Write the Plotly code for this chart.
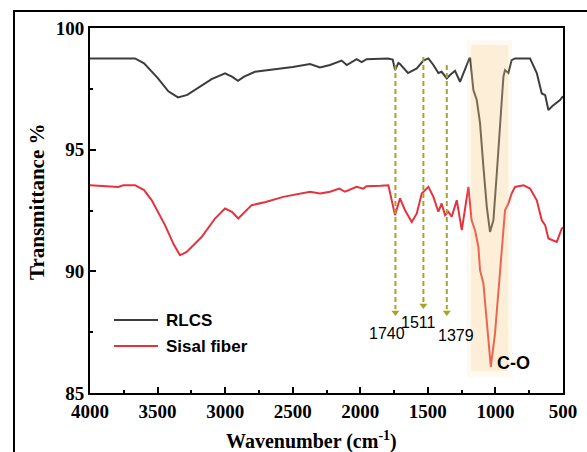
import plotly.graph_objects as go

# ---------------- data ----------------
rlcs_wn = [4000, 3800, 3667, 3600, 3500, 3420, 3349, 3280, 3200, 3100, 3001, 2950, 2905,
           2860, 2779, 2668, 2500, 2372, 2298, 2224, 2138, 2100, 2027, 1990, 1953, 1850,
           1795, 1760, 1743, 1718, 1706, 1647, 1582, 1533, 1496, 1459, 1422, 1398, 1360,
           1336, 1299, 1262, 1225, 1193, 1187, 1163, 1138, 1114, 1089, 1064, 1040, 1015,
           990, 966, 941, 929, 904, 880, 855, 800, 744, 694, 657, 632, 608, 571, 522, 500]
rlcs_t = [98.75, 98.75, 98.75, 98.55, 97.95, 97.4, 97.15, 97.25, 97.55, 97.9, 98.14, 98.0, 97.83,
          98.0, 98.2, 98.27, 98.4, 98.52, 98.38, 98.48, 98.66, 98.48, 98.72, 98.6, 98.72, 98.74,
          98.75, 98.7, 98.27, 98.56, 98.52, 98.15, 98.34, 98.66, 98.75, 98.48, 98.15, 98.2, 97.93,
          98.07, 98.24, 97.79, 98.34, 98.75, 98.75, 97.45, 97.04, 96.09, 94.3, 92.65, 91.62, 92.1,
          94.02, 96.08, 98.0, 98.27, 98.15, 98.68, 98.75, 98.75, 98.75, 98.15, 97.31, 97.24, 96.63, 96.83, 97.04, 97.2]

sisal_wn = [4000, 3900, 3790, 3753, 3667, 3600, 3543, 3445, 3380, 3334, 3285, 3174, 3075,
            3001, 2950, 2903, 2860, 2804, 2700, 2570, 2372, 2298, 2224, 2155, 2113, 2027,
            1978, 1953, 1850, 1792, 1743, 1706, 1669, 1619, 1582, 1545, 1496, 1459, 1422,
            1398, 1373, 1348, 1324, 1286, 1249, 1225, 1200, 1176, 1151, 1126, 1114, 1089,
            1060, 1034, 1003, 971, 954, 929, 904, 880, 855, 793, 744, 694, 657, 632, 608,
            571, 546, 509, 500]
sisal_t = [93.54, 93.52, 93.47, 93.54, 93.54, 93.34, 92.92, 91.9, 91.1, 90.66, 90.8, 91.41, 92.17,
           92.58, 92.45, 92.17, 92.4, 92.72, 92.85, 93.06, 93.27, 93.2, 93.27, 93.4, 93.27, 93.47,
           93.4, 93.5, 93.52, 93.54, 92.31, 93.0, 92.51, 92.03, 92.38, 93.2, 93.47, 93.06, 92.45,
           92.79, 92.31, 92.45, 92.24, 92.92, 91.69, 92.51, 93.47, 92.1, 91.69, 91.0, 90.05, 89.5,
           87.8, 86.07, 87.45, 89.5, 90.87, 92.51, 92.79, 93.2, 93.47, 93.54, 93.4, 92.92, 92.1,
           91.9, 91.35, 91.28, 91.21, 91.76, 91.8]

series_names = ["RLCS", "Sisal fiber"]

peak_wn = [1740, 1533, 1360]
peak_labels = ["1740", "1511", "1379"]
arrow_top = [98.48, 98.81, 98.48]
arrow_bottom = [88.19, 88.48, 88.19]
label_wn = [1805, 1570, 1295]
label_t = [87.45, 87.9, 87.35]

band_wn = [1180, 905]
band_t = [85.9, 99.3]

x_ticks = [4000, 3500, 3000, 2500, 2000, 1500, 1000, 500]
y_ticks = [85, 90, 95, 100]

# ---------------- figure ----------------
GRAY = "#3c3c3c"
RED = "#e6323c"
OLIVE = "#a6a428"
PLOT_L, PLOT_W, PLOT_B, PLOT_H = 90, 473, 393, 365


def px_x(p):
    return (p - PLOT_L) / PLOT_W


def px_y(p):
    return (PLOT_B - p) / PLOT_H


fig = go.Figure()

fig.add_trace(go.Scatter(x=rlcs_wn, y=rlcs_t, mode="lines", name=series_names[0],
                         line=dict(color=GRAY, width=2)))
fig.add_trace(go.Scatter(x=sisal_wn, y=sisal_t, mode="lines", name=series_names[1],
                         line=dict(color=RED, width=2)))

for xw, yt, yb in zip(peak_wn, arrow_top, arrow_bottom):
    fig.add_trace(go.Scatter(x=[xw, xw], y=[yt, yb + 0.25], mode="lines", showlegend=False,
                             line=dict(color=OLIVE, width=2, dash="5px,3px"), hoverinfo="skip"))
    fig.add_trace(go.Scatter(x=[xw], y=[yb + 0.12], mode="markers", showlegend=False,
                             marker=dict(symbol="triangle-down", size=7, color=OLIVE),
                             hoverinfo="skip"))

# shaded C-O band (drawn above lines, translucent, soft edge)
fig.add_shape(type="rect", xref="x", yref="y", x0=band_wn[0] + 30, x1=band_wn[1] - 30,
              y0=band_t[0] - 0.25, y1=band_t[1] + 0.2, line=dict(width=0),
              fillcolor="rgba(250,215,150,0.12)", layer="above")
fig.add_shape(type="rect", xref="x", yref="y", x0=band_wn[0], x1=band_wn[1],
              y0=band_t[0], y1=band_t[1], line=dict(width=0),
              fillcolor="rgba(250,205,130,0.24)", layer="above")

for xw, yt, txt in zip(label_wn, label_t, peak_labels):
    fig.add_annotation(x=xw, y=yt, text=txt, showarrow=False,
                       font=dict(family="Liberation Sans, Arial", size=16, color="black"))

fig.add_annotation(x=870, y=86.25, text="<b>C-O</b>", showarrow=False,
                   font=dict(family="Liberation Sans, Arial", size=18, color="black"))

# custom legend (long line samples like the reference)
for name, col, py in zip(series_names, [GRAY, RED], [320, 346]):
    fig.add_shape(type="line", xref="paper", yref="paper", x0=px_x(114), x1=px_x(158),
                  y0=px_y(py), y1=px_y(py), line=dict(color=col, width=2))
    fig.add_annotation(xref="paper", yref="paper", x=px_x(164), y=px_y(py), text="<b>%s</b>" % name,
                       showarrow=False, xanchor="left", yanchor="middle",
                       font=dict(family="Liberation Sans, Arial", size=17, color="black"))

# axis titles
fig.add_annotation(xref="paper", yref="paper", x=px_x(311), y=px_y(440), xanchor="center",
                   yanchor="middle", text="<b>Wavenumber (cm<sup>-1</sup>)</b>", showarrow=False,
                   font=dict(family="Liberation Serif, Times New Roman", size=20, color="black"))
fig.add_annotation(xref="paper", yref="paper", x=px_x(37), y=px_y(202), xanchor="center",
                   yanchor="middle", text="<b>Transmittance %</b>", showarrow=False, textangle=-90,
                   font=dict(family="Liberation Serif, Times New Roman", size=21, color="black"))

# outer frame
fig.add_shape(type="rect", xref="paper", yref="paper",
              x0=px_x(14), x1=px_x(600), y0=px_y(470), y1=px_y(11),
              line=dict(color="black", width=2), fillcolor="rgba(0,0,0,0)", layer="below")

tickfont = dict(family="Liberation Serif, Times New Roman", size=19, color="black", weight="bold")

fig.update_xaxes(range=[4000, 500], tickvals=x_ticks, ticks="inside", ticklen=6, tickwidth=1.5,
                 tickcolor="black", showline=True, linecolor="black", linewidth=2, mirror=True,
                 showgrid=False, zeroline=False, tickfont=tickfont,
                 minor=dict(dtick=250, ticks="inside", ticklen=3, tickwidth=1.5, tickcolor="black",
                            tick0=500, showgrid=False))
fig.update_yaxes(range=[85, 100], tickvals=y_ticks, ticks="inside", ticklen=6, tickwidth=1.5,
                 tickcolor="black", showline=True, linecolor="black", linewidth=2, mirror=True,
                 showgrid=False, zeroline=False, tickfont=tickfont,
                 minor=dict(dtick=2.5, ticks="inside", ticklen=3, tickwidth=1.5, tickcolor="black",
                            tick0=85, showgrid=False))

fig.update_layout(
    width=587, height=452,
    margin=dict(l=PLOT_L, r=587 - PLOT_L - PLOT_W, t=PLOT_B - PLOT_H, b=452 - PLOT_B, autoexpand=False),
    paper_bgcolor="white", plot_bgcolor="white",
    showlegend=False,
)

fig.write_html("out.html", config={"displayModeBar": False},
               post_script="document.body.style.margin='0';document.body.style.overflow='hidden';")
